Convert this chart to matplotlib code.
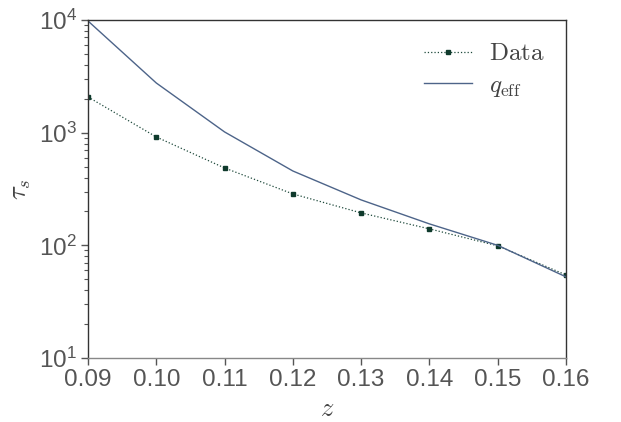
import matplotlib
matplotlib.use("Agg")
import matplotlib.pyplot as plt
import numpy as np

z = [0.09, 0.10, 0.11, 0.12, 0.13, 0.14, 0.15, 0.16]
tau_data = [2075, 916, 486, 286, 194, 140, 99, 54.6]
tau_qeff = [9800, 2760, 1015, 457, 253, 155, 100, 52.5]

plt.rcParams['font.family'] = ['Liberation Sans', 'DejaVu Sans']
plt.rcParams['mathtext.fontset'] = 'cm'

fig = plt.figure(figsize=(6.21, 4.22), dpi=100)
ax = fig.add_axes([88/621, 1-358/422, (566-88)/621, (358-20)/422])

ax.plot(z, tau_data, linestyle=':', color='#1f4a3c', linewidth=0.9, marker='s',
        markersize=3.5, markerfacecolor='#0f3a2c', markeredgecolor='#0f3a2c',
        label=r'$\mathrm{Data}$')
ax.plot(z, tau_qeff, linestyle='-', color='#4d6489', linewidth=1.0,
        label=r'$q_{\mathrm{eff}}$')

ax.set_yscale('log')
ax.set_xlim(0.09, 0.16)
ax.set_ylim(10, 1e4)
ax.set_xticks(z)
ax.set_xticklabels(['%.2f' % v for v in z])

for s in ['top', 'right', 'left']:
    ax.spines[s].set_color('#333333')
ax.spines['bottom'].set_color('#888888')
for s in ax.spines.values():
    s.set_linewidth(1.0)

ax.tick_params(axis='both', which='major', direction='out', length=5, width=1,
               colors='#555555', labelsize=17.5, labelcolor='#555555', pad=3)
ax.tick_params(axis='y', which='minor', direction='out', length=3, width=0.8, colors='#555555')
ax.tick_params(axis='x', which='minor', bottom=False)

ax.set_xlabel(r'$z$', fontsize=19, color='#444444', labelpad=4)
ax.set_ylabel(r'$\tau_s$', fontsize=19, color='#444444')

leg = ax.legend(loc='upper right', frameon=False, fontsize=18, handlelength=1.9,
                borderaxespad=0.45, labelspacing=0.3, handletextpad=0.7)
for t in leg.get_texts():
    t.set_color('#444444')

fig.savefig('out.png', dpi=100)
